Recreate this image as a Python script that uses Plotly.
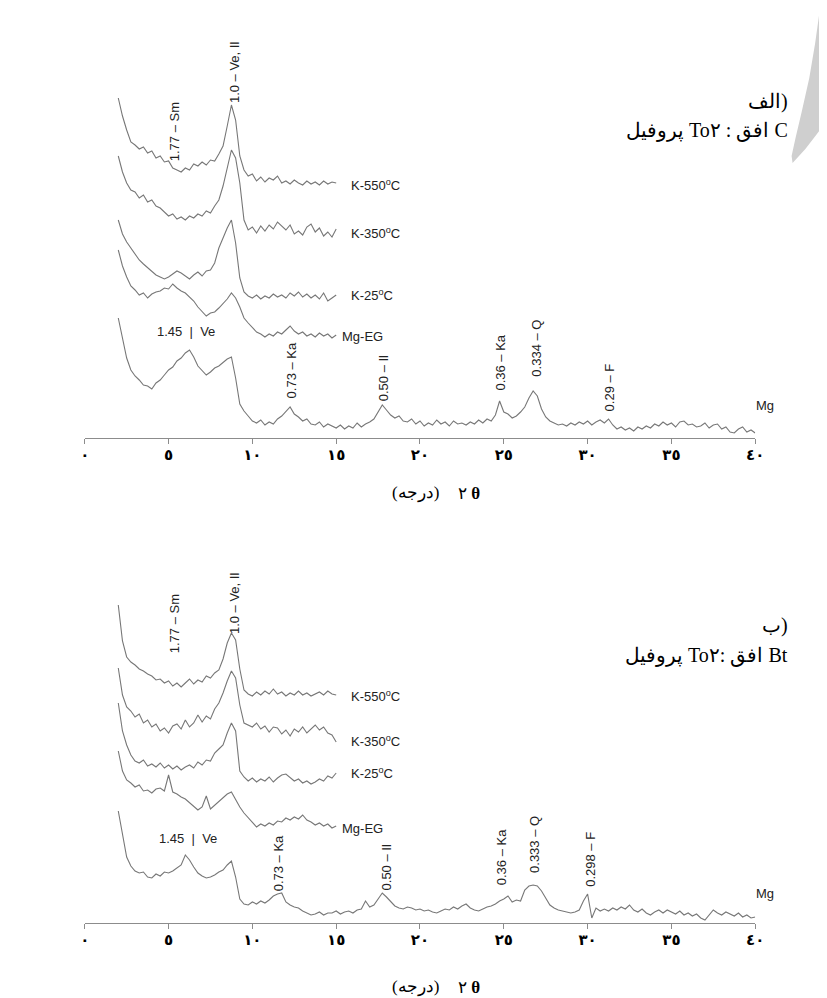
import plotly.graph_objects as go

# ---------------- data (2theta grid starts at 2.0 deg, 0.25 deg step) ----------------
GRID_START = 2.0
GRID_STEP = 0.25

TICK_VALS = [0, 5, 10, 15, 20, 25, 30, 35, 40]
TICK_TEXT = ["٠", "٥", "١٠", "١٥", "٢٠", "٢٥", "٣٠", "٣٥", "٤٠"]

# ---- panel A (Horizon C) ----
A_K550 = [340, 322, 308, 296, 293, 289, 291, 285, 287, 280, 282, 276, 277, 270, 268, 266,
          270, 268, 274, 272, 276, 273, 278, 277, 284, 292, 312, 333, 318, 282, 268, 262,
          264, 257, 261, 256, 260, 258, 262, 255, 257, 254, 258, 255, 253, 257, 254, 256,
          253, 257, 254, 256, 255]
A_K350 = [282, 266, 255, 248, 246, 240, 243, 236, 238, 232, 230, 226, 222, 224, 219, 221,
          218, 222, 220, 224, 222, 227, 225, 232, 238, 252, 270, 288, 280, 255, 218, 208,
          211, 205, 212, 207, 213, 209, 216, 212, 208, 213, 204, 207, 203, 211, 214, 206,
          210, 202, 206, 201, 209]
A_K25 = [218, 204, 196, 190, 185, 178, 174, 170, 166, 163, 161, 159, 161, 164, 167, 165,
         162, 159, 163, 166, 162, 167, 168, 175, 190, 200, 210, 218, 195, 160, 146, 142,
         140, 143, 139, 142, 140, 144, 141, 143, 140, 145, 142, 146, 141, 144, 140, 143,
         139, 145, 137, 140, 143]
A_MGEG = [188, 172, 161, 152, 148, 143, 145, 140, 144, 146, 147, 150, 149, 154, 150, 147,
          145, 141, 137, 131, 127, 122, 125, 126, 130, 134, 139, 145, 140, 131, 120, 115,
          110, 106, 104, 101, 104, 102, 106, 104, 108, 112, 107, 104, 106, 102, 104, 101,
          105, 102, 104, 100, 103]
A_MG = [120, 98, 80, 68, 62, 58, 53, 52, 49, 55, 58, 63, 68, 71, 77, 80,
        85, 88, 81, 72, 68, 63, 66, 70, 72, 76, 79, 81, 60, 34, 27, 22,
        17, 15, 18, 13, 16, 14, 19, 22, 26, 31, 24, 21, 17, 19, 14, 13,
        16, 11, 14, 12, 10, 13, 9, 12, 10, 15, 11, 14, 16, 19, 26, 33,
        28, 23, 20, 22, 17, 16, 19, 14, 17, 12, 15, 13, 18, 14, 16, 12,
        17, 14, 15, 13, 16, 14, 18, 15, 19, 17, 23, 37, 26, 24, 20, 22,
        26, 31, 40, 47, 42, 29, 21, 17, 15, 13, 14, 12, 15, 13, 16, 14,
        17, 13, 16, 18, 15, 19, 13, 9, 11, 8, 10, 7, 11, 9, 12, 10,
        14, 12, 16, 13, 15, 11, 16, 17, 13, 14, 11, 12, 15, 10, 13, 14,
        9, 11, 6, 5, 9, 11, 6, 8, 5]

# ---- panel B (Horizon Bt) ----
B_K550 = [318, 282, 266, 261, 258, 254, 252, 249, 247, 243, 244, 240, 242, 237, 240, 236,
          240, 244, 239, 243, 241, 247, 245, 250, 253, 264, 280, 290, 283, 254, 233, 229,
          227, 231, 228, 232, 229, 234, 229, 231, 227, 230, 228, 232, 228, 230, 227, 229,
          231, 228, 232, 229, 228]
B_K350 = [255, 228, 216, 212, 206, 209, 200, 203, 196, 199, 192, 195, 190, 197, 199, 194,
          203, 196, 200, 208, 201, 207, 204, 214, 220, 230, 242, 252, 245, 218, 200, 198,
          196, 200, 194, 197, 191, 196, 195, 189, 193, 187, 194, 191, 196, 190, 194, 198,
          193, 196, 190, 188, 181]
B_K25 = [220, 192, 178, 168, 162, 160, 163, 157, 159, 156, 160, 155, 158, 154, 157, 153,
         156, 158, 155, 161, 158, 163, 162, 170, 174, 178, 190, 200, 192, 152, 146, 142,
         145, 141, 144, 142, 146, 141, 145, 148, 149, 145, 142, 144, 140, 142, 139, 141,
         144, 142, 147, 145, 150]
B_MGEG = [172, 152, 143, 140, 136, 138, 132, 133, 130, 134, 135, 132, 148, 131, 129, 126,
          124, 120, 116, 113, 116, 127, 114, 118, 122, 126, 129, 131, 123, 116, 110, 105,
          101, 96, 99, 97, 100, 98, 102, 101, 105, 103, 106, 104, 108, 103, 101, 98,
          100, 97, 99, 95, 97]
B_MG = [112, 87, 66, 57, 52, 50, 51, 46, 45, 49, 47, 51, 50, 52, 55, 58,
        68, 63, 56, 50, 47, 45, 46, 48, 51, 53, 58, 62, 46, 24, 19, 18,
        21, 19, 22, 20, 23, 27, 29, 30, 21, 18, 16, 15, 12, 10, 8, 9,
        11, 8, 10, 10, 12, 9, 11, 12, 10, 13, 14, 22, 16, 18, 24, 30,
        26, 22, 17, 15, 14, 16, 15, 13, 14, 12, 13, 11, 10, 12, 14, 13,
        16, 14, 17, 19, 15, 13, 12, 14, 16, 17, 19, 22, 24, 27, 21, 23,
        22, 33, 37, 38, 37, 32, 25, 18, 15, 13, 12, 11, 10, 11, 13, 22,
        29, 5, 15, 12, 14, 12, 15, 13, 16, 14, 18, 13, 11, 14, 10, 8,
        11, 13, 10, 13, 11, 9, 12, 8, 10, 7, 9, 5, 3, 8, 13, 10,
        8, 11, 9, 7, 10, 6, 8, 5, 6]

PANEL_A = [A_K550, A_K350, A_K25, A_MGEG, A_MG]
PANEL_B = [B_K550, B_K350, B_K25, B_MGEG, B_MG]

# trace end labels: (text, x, y)
A_END_LABELS = [("K-550<sup>o</sup>C", 15.75, 253), ("K-350<sup>o</sup>C", 15.75, 205),
                ("K-25<sup>o</sup>C", 15.75, 143), ("Mg-EG", 15.2, 102), ("Mg", 39.9, 33)]
B_END_LABELS = [("K-550<sup>o</sup>C", 15.75, 227), ("K-350<sup>o</sup>C", 15.75, 182),
                ("K-25<sup>o</sup>C", 15.75, 150), ("Mg-EG", 15.2, 95), ("Mg", 39.9, 30)]

# peak labels: (text, x, y, vertical?)
A_PEAKS = [("1.0 – Ve, Il", 8.91, 366, True), ("1.77 – Sm", 5.34, 306, True),
           ("1.45  |  Ve", 6.04, 107, False), ("0.73 – Ka", 12.33, 68, True),
           ("0.50 – Il", 17.81, 60, True), ("0.36 – Ka", 24.75, 75, True),
           ("0.334 – Q", 26.9, 90, True), ("0.29 – F", 31.3, 51, True)]
B_PEAKS = [("1.0 – Ve, Il", 8.91, 320, True), ("1.77 – Sm", 5.34, 299, True),
           ("1.45  |  Ve", 6.16, 85, False), ("0.73 – Ka", 11.55, 60, True),
           ("0.50 – Il", 18.0, 56, True), ("0.36 – Ka", 24.85, 66, True),
           ("0.333 – Q", 26.8, 79, True), ("0.298 – F", 30.13, 64, True)]

W, H = 827, 998
LINE_COLOR = "#777777"
AXIS_COLOR = "#8c8c8c"


def grid_for(vals):
    return [GRID_START + GRID_STEP * i for i in range(len(vals))]


fig = go.Figure()

for vals in PANEL_A:
    fig.add_trace(go.Scatter(x=grid_for(vals), y=vals, mode="lines", xaxis="x", yaxis="y",
                             line=dict(color=LINE_COLOR, width=1.1), showlegend=False,
                             hoverinfo="skip"))
for vals in PANEL_B:
    fig.add_trace(go.Scatter(x=grid_for(vals), y=vals, mode="lines", xaxis="x2", yaxis="y2",
                             line=dict(color=LINE_COLOR, width=1.1), showlegend=False,
                             hoverinfo="skip"))


def px_domain(axis_px, top_px):
    return [1 - axis_px / H, 1 - top_px / H]


xdom = [73 / W, 755 / W]
xaxis_common = dict(domain=xdom, range=[0, 40], showline=True, linecolor=AXIS_COLOR,
                    linewidth=1, ticks="outside", ticklen=5, tickcolor=AXIS_COLOR,
                    tickvals=TICK_VALS, ticktext=TICK_TEXT, showgrid=False, zeroline=False,
                    tickfont=dict(size=15, color="black", family="DejaVu Sans", weight="bold"),
                    ticklabelstandoff=-2, fixedrange=True)
yaxis_common = dict(range=[0, 400], visible=False, showgrid=False, zeroline=False,
                    fixedrange=True)


def ppath(points):
    return "M " + " L ".join(f"{x / W:.5f},{1 - y / H:.5f}" for x, y in points) + " Z"


# decorative page mark (light grey crescent at the top-right corner)
crescent = [(821, 0), (816, 35), (810, 70), (802, 105), (796, 130), (792, 148), (793, 155),
            (806, 141), (817, 127), (827, 114), (827, 0)]

fig.update_layout(
    width=W, height=H, margin=dict(l=0, r=0, t=0, b=0),
    paper_bgcolor="white", plot_bgcolor="white",
    xaxis=dict(xaxis_common, anchor="y"),
    yaxis=dict(yaxis_common, domain=px_domain(430, 30), anchor="x"),
    xaxis2=dict(xaxis_common, anchor="y2"),
    yaxis2=dict(yaxis_common, domain=px_domain(915, 515), anchor="x2"),
    shapes=[dict(type="path", path=ppath(crescent), xref="paper", yref="paper",
                 fillcolor="#cfcfcf", line=dict(width=0), layer="below")],
)

LABEL_FONT = dict(family="Liberation Sans, Arial", size=13, color="#222222")
annotations = []


def add_panel_labels(end_labels, peaks, xr, yr):
    for text, x, y in end_labels:
        annotations.append(dict(text=text, x=x, y=y, xref=xr, yref=yr, showarrow=False,
                                xanchor="left", yanchor="middle", font=LABEL_FONT))
    for text, x, y, vert in peaks:
        annotations.append(dict(text=text, x=x, y=y, xref=xr, yref=yr, showarrow=False,
                                xanchor="center", yanchor="middle",
                                textangle=-90 if vert else 0, font=LABEL_FONT))


add_panel_labels(A_END_LABELS, A_PEAKS, "x", "y")
add_panel_labels(B_END_LABELS, B_PEAKS, "x2", "y2")

TITLE_FONT = dict(family="Liberation Serif, DejaVu Serif, serif", size=20, color="black")
# panel captions (LRM keeps the left-to-right visual order of the original)
for txt, ypx in [("\u200eالف)", 93), ("\u200eپروفیل To۲ : افق C", 123),
                 ("\u200eب)", 617), ("\u200eپروفیل To۲: افق Bt", 647)]:
    annotations.append(dict(text=txt, x=790 / W, y=1 - ypx / H, xref="paper", yref="paper",
                            showarrow=False, xanchor="right", yanchor="middle", font=TITLE_FONT))

# x-axis titles
AX_TITLE_FONT = dict(family="Liberation Serif, DejaVu Serif, serif", size=17, color="black")
for ypx in [485, 979]:
    annotations.append(dict(text="(درجه)", x=435 / W, y=1 - ypx / H, xref="paper", yref="paper",
                            showarrow=False, xanchor="right", yanchor="middle", font=AX_TITLE_FONT))
    annotations.append(dict(text="٢ <b>θ</b>", x=477 / W, y=1 - ypx / H, xref="paper", yref="paper",
                            showarrow=False, xanchor="right", yanchor="middle", font=AX_TITLE_FONT))

fig.update_layout(annotations=annotations)

fig.write_html("out.html")
